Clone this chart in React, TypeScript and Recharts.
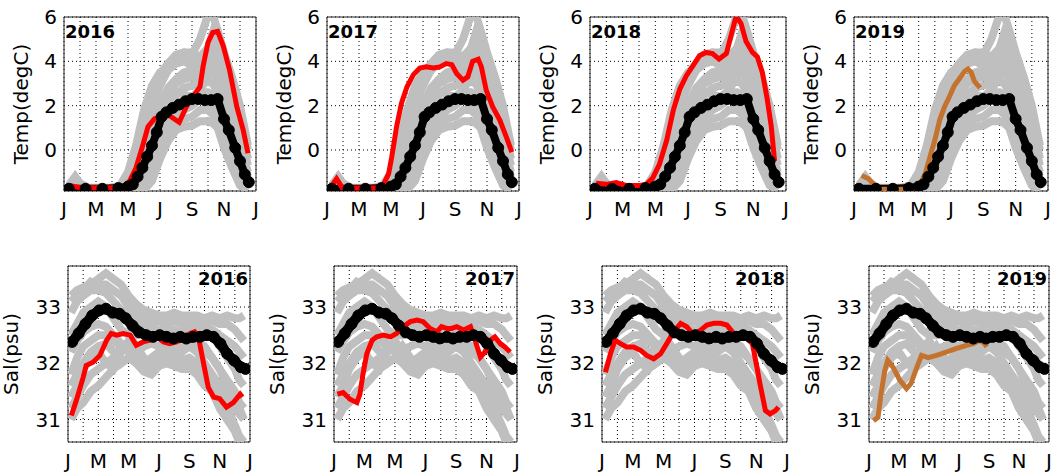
import React from "react";
import { LineChart, Line, XAxis, YAxis, CartesianGrid, ReferenceArea } from "recharts";

const FONT = "DejaVu Sans, sans-serif";
const GREY = "#bfbfbf";

const MONTH_TICKS = [0, 1, 2, 3, 4, 5, 6, 7, 8, 9, 10, 11, 12];
const MONTH_LABELS = ["J", "M", "M", "J", "S", "N", "J"]; // every second month
const YEARS = ["2016", "2017", "2018", "2019"];
const TEMP_TICKS = [0, 2, 4, 6];
const SAL_TICKS = [31, 32, 33];

// climatology years (grey), x = months since Jan 1
const CLIM_TX = [0.3, 0.7, 1, 1.5, 2, 2.5, 3, 3.5, 4, 4.5, 5, 5.5, 6, 6.5, 7, 7.5, 8, 8.5, 9, 9.3, 9.6, 10, 10.5, 11, 11.5];
const CLIM_T1 = [-1.6, -1.2, -1.5, -1.7, -1.7, -1.7, -1.7, -1.6, -1.2, -0.3, 1.5, 2.7, 3.4, 3.9, 4.3, 4.4, 4.3, 5.0, 6.1, 6.1, 5.4, 4.4, 3.3, 2.0, 0.2];
const CLIM_T2 = [-1.7, -1.5, -1.6, -1.8, -1.8, -1.8, -1.7, -1.7, -1.4, -0.7, 0.6, 1.9, 2.9, 3.6, 4.1, 4.4, 4.4, 4.2, 4.6, 5.3, 5.0, 3.8, 2.6, 1.2, -0.4];
const CLIM_T3 = [-1.8, -1.6, -1.7, -1.8, -1.8, -1.8, -1.8, -1.7, -1.6, -1.1, -0.2, 1.0, 2.0, 2.8, 3.2, 3.5, 3.6, 3.5, 3.8, 4.0, 3.6, 2.8, 1.6, 0.2, -1.0];
const CLIM_T4 = [-1.8, -1.7, -1.8, -1.8, -1.8, -1.8, -1.8, -1.8, -1.7, -1.4, -0.8, 0.2, 1.3, 2.0, 2.5, 2.8, 2.9, 3.0, 3.1, 3.0, 2.6, 1.8, 0.7, -0.6, -1.5];
const CLIM_T5 = [-1.8, -1.8, -1.8, -1.8, -1.8, -1.8, -1.8, -1.8, -1.8, -1.7, -1.3, -0.6, 0.3, 1.0, 1.5, 1.8, 2.0, 2.3, 2.2, 2.0, 1.5, 0.7, -0.3, -1.2, -1.7];
const CLIM_T6 = [-1.8, -1.8, -1.8, -1.8, -1.8, -1.8, -1.8, -1.8, -1.8, -1.8, -1.8, -1.4, -0.4, 0.4, 0.9, 1.05, 1.1, 1.3, 1.3, 1.2, 1.0, 0.1, -0.8, -1.6, -1.8];
const CLIM_T7 = [-1.7, -1.6, -1.7, -1.8, -1.8, -1.8, -1.8, -1.7, -1.5, -1.0, -0.3, 0.6, 1.6, 2.3, 2.6, 2.5, 2.4, 2.7, 3.3, 3.5, 3.2, 2.3, 1.2, -0.1, -1.2];
const CLIM_T8 = [-1.6, -1.3, -1.6, -1.8, -1.8, -1.8, -1.7, -1.6, -1.0, 0.2, 1.8, 2.9, 3.5, 3.8, 4.0, 4.1, 4.0, 3.9, 4.4, 4.9, 4.8, 4.0, 2.9, 1.5, 0.0];
const CLIM_T9 = [-1.8, -1.7, -1.7, -1.8, -1.8, -1.8, -1.8, -1.8, -1.6, -1.2, -0.4, 0.6, 1.7, 2.5, 3.0, 3.2, 3.3, 3.2, 3.4, 3.6, 3.3, 2.5, 1.3, -0.2, -1.3];
const CLIM_T10 = [-1.8, -1.8, -1.8, -1.8, -1.8, -1.8, -1.8, -1.8, -1.8, -1.6, -1.1, -0.2, 0.8, 1.4, 1.8, 2.1, 2.4, 2.6, 2.6, 2.5, 2.0, 1.2, 0.2, -0.9, -1.6];
const CLIM_T11 = [-1.8, -1.8, -1.8, -1.8, -1.8, -1.8, -1.8, -1.8, -1.8, -1.8, -1.6, -1.0, 0.0, 0.7, 1.2, 1.4, 1.5, 1.8, 1.8, 1.6, 1.2, 0.4, -0.5, -1.4, -1.8];
const CLIM_T12 = [-1.7, -1.4, -1.6, -1.8, -1.8, -1.8, -1.8, -1.7, -1.3, -0.5, 0.9, 2.2, 3.1, 3.6, 3.9, 4.0, 3.8, 3.6, 4.1, 4.5, 4.1, 3.2, 2.0, 0.7, -0.7];

const CLIM_SX = [0.2, 0.6, 1, 1.5, 2, 2.5, 3, 3.5, 4, 4.5, 5, 5.5, 6, 6.5, 7, 7.5, 8, 8.5, 9, 9.5, 10, 10.5, 11, 11.3, 11.6];
const CLIM_S1 = [33.2, 33.3, 33.35, 33.4, 33.5, 33.6, 33.5, 33.4, 33.2, 33.05, 32.95, 32.9, 32.85, 32.85, 32.9, 32.85, 32.85, 32.85, 32.8, 32.85, 32.8, 32.85, 32.8, 32.8, 32.85];
const CLIM_S2 = [32.9, 33.1, 33.2, 33.3, 33.3, 33.25, 33.1, 32.95, 32.85, 32.75, 32.7, 32.7, 32.75, 32.7, 32.75, 32.7, 32.65, 32.7, 32.65, 32.6, 32.5, 32.4, 32.3, 32.2, 32.1];
const CLIM_S3 = [32.2, 32.4, 32.55, 32.65, 32.7, 32.65, 32.5, 32.35, 32.3, 32.25, 32.3, 32.35, 32.3, 32.4, 32.45, 32.35, 32.3, 32.4, 32.3, 32.1, 31.9, 31.7, 31.5, 31.3, 31.2];
const CLIM_S4 = [31.6, 31.8, 32.0, 32.2, 32.3, 32.35, 32.2, 32.0, 32.1, 32.3, 32.1, 31.95, 32.0, 32.1, 32.0, 32.05, 32.1, 32.0, 31.8, 31.6, 31.3, 31.0, 30.8, 30.6, 30.4];
const CLIM_S5 = [31.0, 31.2, 31.3, 31.5, 31.6, 31.75, 31.9, 32.0, 32.1, 32.0, 31.85, 31.8, 31.95, 32.0, 31.95, 31.9, 31.9, 31.8, 31.6, 31.5, 31.2, 31.0, 30.8, 30.6, 30.5];
const CLIM_S6 = [31.4, 31.6, 31.9, 32.1, 32.2, 32.0, 31.9, 32.2, 32.4, 32.2, 32.0, 31.9, 32.1, 32.2, 32.1, 32.2, 32.3, 32.2, 32.0, 31.8, 31.6, 31.4, 31.2, 31.1, 31.0];
const CLIM_S7 = [33.1, 33.2, 33.3, 33.45, 33.4, 33.4, 33.3, 33.2, 33.0, 32.9, 32.8, 32.8, 32.8, 32.8, 32.8, 32.8, 32.75, 32.75, 32.75, 32.75, 32.7, 32.7, 32.6, 32.5, 32.4];
const CLIM_S8 = [31.8, 32.1, 32.3, 32.4, 32.5, 32.5, 32.4, 32.3, 32.3, 32.1, 32.0, 32.1, 32.2, 32.3, 32.25, 32.3, 32.35, 32.35, 32.2, 32.1, 31.9, 31.6, 31.4, 31.2, 31.0];
const CLIM_S9 = [31.2, 31.4, 31.6, 31.8, 31.9, 32.0, 32.1, 32.3, 32.2, 32.05, 31.95, 31.95, 32.05, 32.1, 32.05, 32.0, 32.0, 31.9, 31.8, 31.7, 31.5, 31.2, 30.9, 30.7, 30.6];
const CLIM_S10 = [32.5, 32.7, 32.9, 33.0, 33.1, 33.0, 32.8, 32.6, 32.5, 32.5, 32.55, 32.6, 32.6, 32.6, 32.6, 32.55, 32.6, 32.6, 32.55, 32.5, 32.3, 32.1, 31.9, 31.7, 31.6];

// climatological mean (black)
const MEAN_TEMP: [number, number][] = [
  [0.3, -1.75], [1.35, -1.75], [2.4, -1.75], [3.4, -1.72], [4.0, -1.65], [4.3, -1.55], [4.6, -1.2],
  [4.9, -0.8], [5.2, -0.3], [5.5, 0.2], [5.8, 0.8], [6.1, 1.5], [6.4, 1.7], [6.8, 1.9], [7.2, 2.05],
  [7.6, 2.2], [8.0, 2.3], [8.4, 2.3], [8.8, 2.25], [9.2, 2.25], [9.6, 2.3], [10.0, 1.4], [10.3, 0.9],
  [10.7, 0.1], [11.0, -0.5], [11.3, -1.1], [11.55, -1.45],
];
const MEAN_SAL: [number, number][] = [
  [0.27, 32.38], [0.7, 32.53], [1.15, 32.7], [1.6, 32.85], [2.05, 32.94], [2.5, 32.97], [2.95, 32.9],
  [3.4, 32.88], [3.8, 32.8], [4.25, 32.67], [4.7, 32.55], [5.15, 32.5], [5.6, 32.47], [6.05, 32.5],
  [6.5, 32.47], [6.95, 32.44], [7.4, 32.47], [7.8, 32.44], [8.25, 32.47], [8.7, 32.47], [9.15, 32.5],
  [9.6, 32.47], [10.05, 32.35], [10.5, 32.17], [10.95, 32.05], [11.4, 31.93], [11.7, 31.9],
];

// individual years
const TEMP_2016: [number, number][] = [
  [0.35, -1.6], [1.0, -1.7], [2.0, -1.7], [3.0, -1.7], [3.7, -1.7], [4.1, -1.4], [4.5, -0.8], [4.9, 0.15],
  [5.25, 1.05], [5.65, 1.4], [6.2, 1.55], [6.6, 1.55], [7.2, 1.25], [7.65, 1.95], [8.05, 2.4], [8.5, 2.85],
  [8.7, 3.8], [9.0, 4.85], [9.3, 5.3], [9.6, 5.35], [9.95, 4.7], [10.35, 3.6], [10.8, 1.95], [11.2, 0.9], [11.5, -0.15],
];
const TEMP_2017: [number, number][] = [
  [0.3, -1.6], [0.6, -1.3], [0.95, -1.7], [2.0, -1.72], [3.3, -1.72], [3.5, -1.6], [3.85, -1.08], [4.05, -0.3],
  [4.35, 1.05], [4.65, 2.1], [5.0, 2.85], [5.4, 3.4], [5.8, 3.7], [6.2, 3.75], [6.65, 3.7], [7.05, 3.75],
  [7.45, 3.9], [7.8, 3.85], [8.1, 3.45], [8.5, 3.15], [8.8, 3.3], [9.1, 4.0], [9.45, 4.1], [9.65, 3.75],
  [9.95, 2.7], [10.35, 1.95], [10.8, 1.35], [11.2, 0.6], [11.55, -0.1],
];
const TEMP_2018: [number, number][] = [
  [0.37, -1.5], [1.0, -1.55], [1.6, -1.47], [2.2, -1.6], [3.05, -1.6], [3.45, -1.55], [3.85, -1.25], [4.25, -0.65],
  [4.7, 0.45], [5.1, 1.8], [5.5, 2.75], [5.9, 3.35], [6.3, 3.8], [6.7, 4.25], [7.1, 4.4], [7.5, 4.35],
  [7.9, 4.1], [8.35, 4.35], [8.65, 5.2], [8.95, 6.05], [9.25, 5.7], [9.55, 4.9], [9.95, 4.4], [10.25, 4.2],
  [10.55, 3.5], [10.85, 2.3], [11.1, 1.05], [11.3, -0.5],
];
const TEMP_2019: [number, number][] = [
  [0.47, -1.15], [0.9, -1.3], [1.3, -1.6], [1.6, -1.77], [2.5, -1.77], [3.66, -1.77], [4.07, -1.55], [4.4, -1.08],
  [4.7, -0.3], [5.0, 0.45], [5.3, 1.35], [5.6, 1.95], [5.9, 2.4], [6.2, 2.9], [6.55, 3.25], [6.85, 3.55],
  [7.05, 3.65], [7.25, 3.5], [7.45, 3.1], [7.8, 2.8],
];

const SAL_2016: [number, number][] = [
  [0.22, 31.07], [0.55, 31.34], [1.0, 31.75], [1.2, 31.96], [1.65, 32.02], [2.1, 32.14], [2.55, 32.41], [2.85, 32.53],
  [3.2, 32.5], [3.65, 32.53], [4.1, 32.5], [4.5, 32.32], [4.95, 32.38], [5.4, 32.41], [5.85, 32.47], [6.3, 32.38],
  [6.7, 32.35], [7.15, 32.38], [7.6, 32.44], [8.05, 32.53], [8.35, 32.56], [8.6, 32.47], [8.9, 32.05], [9.25, 31.57],
  [9.6, 31.4], [10.0, 31.37], [10.45, 31.22], [10.9, 31.3], [11.35, 31.45], [11.5, 31.4],
];
const SAL_2017: [number, number][] = [
  [0.22, 31.45], [0.6, 31.48], [1.05, 31.36], [1.5, 31.3], [1.7, 31.45], [1.9, 31.81], [2.15, 32.17], [2.5, 32.41],
  [2.8, 32.47], [3.25, 32.5], [3.7, 32.47], [4.1, 32.53], [4.55, 32.65], [5.0, 32.74], [5.45, 32.77], [5.85, 32.74],
  [6.3, 32.62], [6.75, 32.56], [7.05, 32.65], [7.4, 32.62], [7.7, 32.62], [8.05, 32.65], [8.5, 32.59], [8.95, 32.65],
  [9.25, 32.41], [9.6, 32.11], [9.9, 32.2], [10.25, 32.41], [10.55, 32.47], [10.9, 32.35], [11.2, 32.29], [11.55, 32.2],
];
const SAL_2018: [number, number][] = [
  [0.22, 31.84], [0.55, 32.17], [0.85, 32.41], [1.2, 32.35], [1.6, 32.29], [2.05, 32.29], [2.5, 32.23], [2.9, 32.14],
  [3.35, 32.08], [3.8, 32.17], [4.2, 32.35], [4.65, 32.56], [5.1, 32.71], [5.5, 32.65], [5.95, 32.5], [6.4, 32.59],
  [6.8, 32.68], [7.25, 32.71], [7.7, 32.71], [8.1, 32.68], [8.55, 32.53], [9.0, 32.47], [9.4, 32.44], [9.75, 32.35],
  [10.05, 31.93], [10.25, 31.63], [10.6, 31.16], [10.9, 31.1], [11.25, 31.16], [11.45, 31.22],
];
const SAL_2019: [number, number][] = [
  [0.3, 30.98], [0.6, 31.04], [0.8, 31.45], [1.05, 31.87], [1.25, 32.05], [1.6, 31.93], [2.05, 31.7], [2.5, 31.55],
  [2.8, 31.64], [3.15, 31.9], [3.5, 32.14], [3.95, 32.1], [4.5, 32.14], [5.15, 32.2], [5.8, 32.26], [6.5, 32.32],
  [6.95, 32.35], [7.4, 32.41], [7.7, 32.35], [7.85, 32.29],
];

const YEAR_COLORS = ["#ff0000", "#ff0000", "#ff0000", "#c4732f"];
const TEMP_YEARS = [TEMP_2016, TEMP_2017, TEMP_2018, TEMP_2019];
const SAL_YEARS = [SAL_2016, SAL_2017, SAL_2018, SAL_2019];

// panel plot-area placement (px)
const TOP_LEFTS = [64, 327, 590, 854];
const TOP_WIDTHS = [192, 192, 196, 194];
const BOT_LEFTS = [68, 334, 602, 869];
const BOT_WIDTHS = [182, 183, 185, 180];

const toRows = (pts: [number, number][]) => pts.map(([x, y]) => ({ x, y }));
const zipRows = (xs: number[], ys: number[]) => xs.map((x, i) => ({ x, y: ys[i] }));

const GREY_TEMP = [CLIM_T1, CLIM_T2, CLIM_T3, CLIM_T4, CLIM_T5, CLIM_T6, CLIM_T7, CLIM_T8, CLIM_T9, CLIM_T10, CLIM_T11, CLIM_T12].map(
  (ys) => zipRows(CLIM_TX, ys)
);
const GREY_SAL = [CLIM_S1, CLIM_S2, CLIM_S3, CLIM_S4, CLIM_S5, CLIM_S6, CLIM_S7, CLIM_S8, CLIM_S9, CLIM_S10].map((ys) =>
  zipRows(CLIM_SX, ys)
);

function AxisTitle(props: any) {
  const vb = props.viewBox;
  const x = vb.x + vb.width - props.gap;
  const y = vb.y + vb.height / 2;
  return (
    <text x={x} y={y} transform={`rotate(-90 ${x} ${y})`} textAnchor="middle" fontSize={20} fontFamily={FONT} fill="#000">
      {props.text}
    </text>
  );
}

function YearTag(props: any) {
  const vb = props.viewBox;
  if (props.side === "left") {
    return (
      <text x={vb.x + 1} y={vb.y + 21} fontSize={18} fontWeight="bold" fontFamily={FONT} fill="#000">
        {props.text}
      </text>
    );
  }
  return (
    <text x={vb.x + vb.width - 2} y={vb.y + 19} textAnchor="end" fontSize={18} fontWeight="bold" fontFamily={FONT} fill="#000">
      {props.text}
    </text>
  );
}

function Panel({ kind, idx }: { kind: "temp" | "sal"; idx: number }) {
  const isTemp = kind === "temp";
  const plotLeft = isTemp ? TOP_LEFTS[idx] : BOT_LEFTS[idx];
  const plotW = isTemp ? TOP_WIDTHS[idx] : BOT_WIDTHS[idx];
  const plotH = isTemp ? 174 : 176;
  const plotTop = isTemp ? 17 : 266;
  const axisW = 76;
  const mTop = 17;
  const width = axisW + plotW + 6;
  const height = mTop + plotH + 34;
  const domain: [number, number] = isTemp ? [-1.85, 6] : [30.6, 33.73];
  const grey = isTemp ? GREY_TEMP : GREY_SAL;
  const mean = toRows(isTemp ? MEAN_TEMP : MEAN_SAL);
  const year = toRows(isTemp ? TEMP_YEARS[idx] : SAL_YEARS[idx]);

  return (
    <div style={{ position: "absolute", left: plotLeft - axisW, top: plotTop - mTop }}>
      <LineChart width={width} height={height} margin={{ top: mTop, right: 6, bottom: 0, left: 0 }}>
        <CartesianGrid stroke="#000" strokeDasharray="1 3" strokeWidth={1} />
        <XAxis
          dataKey="x"
          type="number"
          domain={[0, 12]}
          ticks={MONTH_TICKS}
          tickFormatter={(v: number) => (v % 2 === 0 ? MONTH_LABELS[v / 2] : "")}
          interval={0}
          height={34}
          axisLine={false}
          tickLine={false}
          tickSize={6}
          tickMargin={isTemp ? 5 : 6}
          tick={{ fontSize: 20, fill: "#000", fontFamily: FONT }}
          allowDataOverflow
        />
        <YAxis
          type="number"
          domain={domain}
          ticks={isTemp ? TEMP_TICKS : SAL_TICKS}
          interval={0}
          width={axisW}
          axisLine={false}
          tickLine={false}
          tickSize={4}
          tickMargin={3}
          tick={{ fontSize: 20, fill: "#000", fontFamily: FONT }}
          allowDataOverflow
          label={<AxisTitle text={isTemp ? "Temp(degC)" : "Sal(psu)"} gap={isTemp ? 36 : 50} />}
        />
        {grey.map((rows, i) => (
          <Line
            key={`g${i}`}
            data={rows}
            dataKey="y"
            type="linear"
            stroke={GREY}
            strokeWidth={8}
            dot={false}
            activeDot={false}
            isAnimationActive={false}
          />
        ))}
        <Line
          data={mean}
          dataKey="y"
          type="linear"
          stroke="#000"
          strokeWidth={isTemp ? 8 : 10}
          dot={{ r: 5.5, fill: "#000", stroke: "#000", strokeWidth: 1 }}
          activeDot={false}
          isAnimationActive={false}
        />
        <Line
          data={year}
          dataKey="y"
          type="linear"
          stroke={YEAR_COLORS[idx]}
          strokeWidth={5}
          dot={false}
          activeDot={false}
          isAnimationActive={false}
        />
        <ReferenceArea
          x1={0}
          x2={12}
          y1={domain[0]}
          y2={domain[1]}
          fill="none"
          fillOpacity={0}
          stroke="#222"
          strokeWidth={1}
          ifOverflow="visible"
          label={<YearTag text={YEARS[idx]} side={isTemp ? "left" : "right"} />}
        />
      </LineChart>
    </div>
  );
}

export default function App() {
  return (
    <div style={{ position: "absolute", left: 0, top: 0, width: 1053, height: 475, background: "#fff", overflow: "hidden" }}>
      {YEARS.map((_, i) => (
        <Panel key={`t${i}`} kind="temp" idx={i} />
      ))}
      {YEARS.map((_, i) => (
        <Panel key={`s${i}`} kind="sal" idx={i} />
      ))}
    </div>
  );
}
